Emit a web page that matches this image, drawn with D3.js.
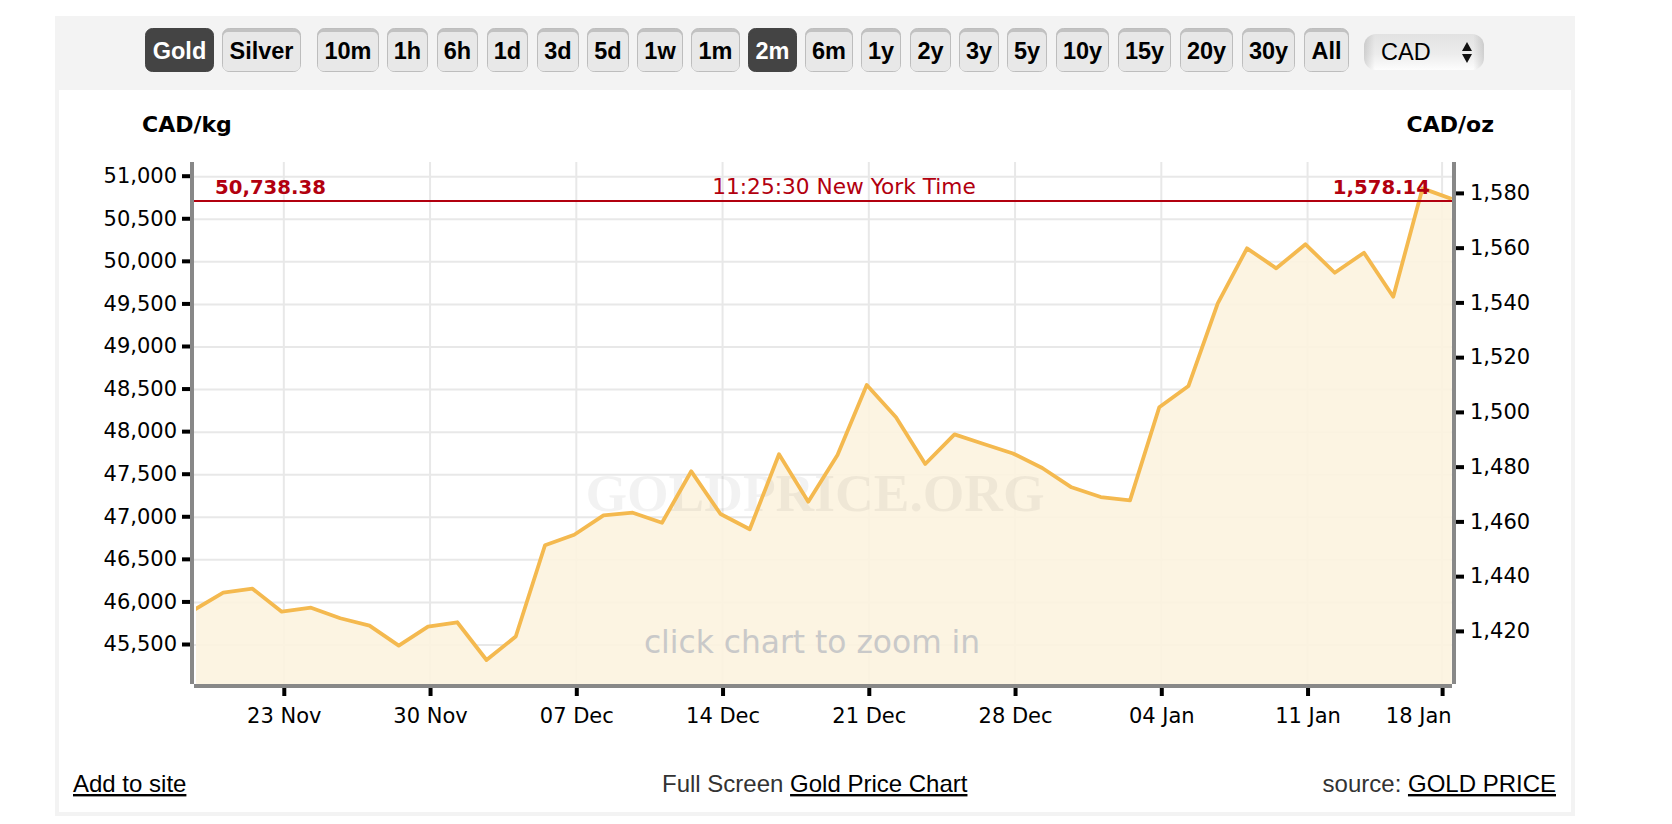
<!DOCTYPE html>
<html>
<head>
<meta charset="utf-8">
<script src="https://cdn.jsdelivr.net/npm/d3@7"></script>
<style>
body { margin:0; background:#fff; }
svg { display:block; }
</style>
</head>
<body>
<div id="chart"></div>
<script>
// trading days, 18 Nov - 18 Jan
const days = ["18 Nov","19 Nov","20 Nov","23 Nov","24 Nov","25 Nov","26 Nov","27 Nov","30 Nov","01 Dec","02 Dec","03 Dec","04 Dec","07 Dec","08 Dec","09 Dec","10 Dec","11 Dec","14 Dec","15 Dec","16 Dec","17 Dec","18 Dec","21 Dec","22 Dec","23 Dec","24 Dec","25 Dec","28 Dec","29 Dec","30 Dec","31 Dec","01 Jan","04 Jan","05 Jan","06 Jan","07 Jan","08 Jan","11 Jan","12 Jan","13 Jan","14 Jan","15 Jan","18 Jan"]
const prices = [45911,46114,46161,45891,45938,45814,45727,45492,45715,45767,45324,45600,46672,46795,47023,47054,46936,47540,47038,46859,47740,47183,47731,48553,48174,47626,47974,47861,47749,47579,47352,47238,47199,48292,48542,49513,50159,49924,50206,49872,50107,49590,50863,50738.38]

const kgTicks = [45500,46000,46500,47000,47500,48000,48500,49000,49500,50000,50500,51000]
const ozTicks = [1420,1440,1460,1480,1500,1520,1540,1560,1580]
const dateTickLabels = ["23 Nov","30 Nov","07 Dec","14 Dec","21 Dec","28 Dec","04 Jan","11 Jan","18 Jan"]
const dateTickPos = [3.07,8.07,13.07,18.07,23.07,28.07,33.07,38.07,42.67]

const priceKg = "50,738.38"
const priceOz = "1,578.14"
const clockText = "11:25:30 New York Time"

const metalLabels = ["Gold","Silver"]
const rangeLabels = ["10m","1h","6h","1d","3d","5d","1w","1m","2m","6m","1y","2y","3y","5y","10y","15y","20y","30y","All"]
const activeLabels = ["Gold","2m"]
const buttonEdges = [[145,214],[222,301],[317,379],[387,428],[437,478],[487,528],[537,579],[587,629],[637,683],[691,740],[748,797],[805,853],[861,901],[910,951],[959,999],[1007,1047],[1056,1109],[1118,1171],[1180,1233],[1242,1295],[1304,1349]]

const width = 1672
const height = 824
const plot = {left:194, right:1452, top:162, bottom:684}
const sans = "'Liberation Sans', Arial, sans-serif"
const lucida = "'DejaVu Sans', sans-serif"
const red = "#b2000f"

const svg = d3.select("div#chart").append("svg").attr("width",width).attr("height",height)
const defs = svg.append("defs")
defs.append("clipPath").attr("id","plotClip").append("rect")
    .attr("x",plot.left+2).attr("y",plot.top).attr("width",plot.right-plot.left-2).attr("height",plot.bottom-plot.top)
const selectGrad = defs.append("linearGradient").attr("id","selectGrad").attr("x1",0).attr("y1",0).attr("x2",0).attr("y2",1)
selectGrad.append("stop").attr("offset","0%").attr("stop-color","#e2e2e2")
selectGrad.append("stop").attr("offset","55%").attr("stop-color","#ececec")
selectGrad.append("stop").attr("offset","100%").attr("stop-color","#fdfdfd")
const edgeGrad = defs.append("linearGradient").attr("id","edgeGrad").attr("x1",0).attr("y1",0).attr("x2",1).attr("y2",0)
edgeGrad.append("stop").attr("offset","0%").attr("stop-color","#999").attr("stop-opacity",0.35)
edgeGrad.append("stop").attr("offset","9%").attr("stop-color","#999").attr("stop-opacity",0)
edgeGrad.append("stop").attr("offset","91%").attr("stop-color","#999").attr("stop-opacity",0)
edgeGrad.append("stop").attr("offset","100%").attr("stop-color","#999").attr("stop-opacity",0.35)

// panel
svg.append("rect").attr("x",55).attr("y",16).attr("width",1520).attr("height",800).attr("fill","#f3f3f3")
svg.append("rect").attr("x",59).attr("y",90).attr("width",1512).attr("height",722).attr("fill","#fff")

// buttons
const allButtons = metalLabels.concat(rangeLabels)
const buttons = svg.append("g").attr("class","buttons")
    .selectAll("g").data(allButtons).enter().append("g")
buttons.append("rect")
    .attr("x",(d,i)=>buttonEdges[i][0]+0.5).attr("y",28.5)
    .attr("width",(d,i)=>buttonEdges[i][1]-buttonEdges[i][0]-1).attr("height",43).attr("rx",7)
    .attr("fill",d=>activeLabels.includes(d) ? "#444" : "#c2c2c2")
    .attr("stroke",d=>activeLabels.includes(d) ? "#444" : "#bdbdbd")
buttons.append("rect")
    .attr("x",(d,i)=>buttonEdges[i][0]+1).attr("y",32)
    .attr("width",(d,i)=>buttonEdges[i][1]-buttonEdges[i][0]-2).attr("height",39).attr("rx",5)
    .attr("fill",d=>activeLabels.includes(d) ? "#444" : "#e8e8e8")
buttons.append("text")
    .attr("x",(d,i)=>(buttonEdges[i][0]+buttonEdges[i][1])/2).attr("y",59)
    .attr("text-anchor","middle").attr("font-family",sans).attr("font-weight","bold").attr("font-size",23.5)
    .attr("fill",d=>activeLabels.includes(d) ? "#fff" : "#000")
    .text(d=>d)

// currency select
const select = svg.append("g").attr("class","select")
select.append("rect").attr("x",1364).attr("y",34).attr("width",120).attr("height",36).attr("rx",12).attr("fill","url(#selectGrad)")
select.append("rect").attr("x",1364).attr("y",34).attr("width",120).attr("height",36).attr("rx",12).attr("fill","url(#edgeGrad)")
select.append("text").attr("x",1381).attr("y",60).attr("font-family",sans).attr("font-size",23.5).attr("fill","#000").text("CAD")
select.append("path").attr("d","M1467,42 L1472,51 L1462,51 Z M1462,54 L1472,54 L1467,63 Z").attr("fill","#111")

// units
svg.append("text").attr("x",142).attr("y",132).attr("font-family",lucida).attr("font-weight","bold").attr("font-size",22).text("CAD/kg")
svg.append("text").attr("x",1494).attr("y",132).attr("text-anchor","end").attr("font-family",lucida).attr("font-weight","bold").attr("font-size",22).text("CAD/oz")

// scales
const x = d3.scaleLinear().domain([0,days.length-1]).range([194,1451.75])
const y = d3.scaleLinear().domain([45500,51000]).range([645,176.7])
const yOz = d3.scaleLinear().domain([1420,1580]).range([631.9,193.9])

// grid
const grid = svg.append("g").attr("class","grid").attr("stroke","#e8e8e8").attr("stroke-width",2)
grid.selectAll("line.h").data(kgTicks).enter().append("line").attr("class","h")
    .attr("x1",plot.left).attr("x2",plot.right).attr("y1",d=>y(d)).attr("y2",d=>y(d))
grid.selectAll("line.v").data(dateTickPos).enter().append("line").attr("class","v")
    .attr("x1",d=>x(d)).attr("x2",d=>x(d)).attr("y1",plot.top).attr("y2",plot.bottom)

// price area
svg.append("path").datum(prices)
    .attr("clip-path","url(#plotClip)")
    .attr("d",d3.area().x((d,i)=>x(i)).y0(plot.bottom).y1(d=>y(d)))
    .attr("fill","#fcf3df").attr("fill-opacity",0.9)

// watermark shows faintly on both the white and the area
svg.append("text").attr("x",815).attr("y",511).attr("text-anchor","middle")
    .attr("font-family","'Liberation Serif', serif").attr("font-weight","bold").attr("font-size",53.5)
    .attr("fill","#000").attr("fill-opacity",0.05).text("GOLDPRICE.ORG")

// price line
svg.append("path").datum(prices)
    .attr("clip-path","url(#plotClip)")
    .attr("d",d3.line().x((d,i)=>x(i)).y(d=>y(d)))
    .attr("fill","none").attr("stroke","#f4b94f").attr("stroke-width",3.8).attr("stroke-linejoin","round")

// current price line
svg.append("line").attr("x1",plot.left).attr("x2",plot.right)
    .attr("y1",y(prices[prices.length-1])+2).attr("y2",y(prices[prices.length-1])+2)
    .attr("stroke",red).attr("stroke-width",2)
svg.append("text").attr("x",215).attr("y",194).attr("font-family",lucida).attr("font-weight","bold").attr("font-size",19.7).attr("fill",red).text(priceKg)
svg.append("text").attr("x",844).attr("y",194).attr("text-anchor","middle").attr("font-family",lucida).attr("font-size",21.7).attr("fill",red).text(clockText)
svg.append("text").attr("x",1430).attr("y",194).attr("text-anchor","end").attr("font-family",lucida).attr("font-weight","bold").attr("font-size",19.7).attr("fill",red).text(priceOz)

svg.append("text").attr("x",812).attr("y",653).attr("text-anchor","middle").attr("font-family",lucida).attr("font-size",31.3).attr("fill","#c9c9c9").text("click chart to zoom in")

// axes
const styleAxis = g => {
    g.select(".domain").remove()
    g.selectAll(".tick line").attr("stroke","#000").attr("stroke-width",4)
    g.selectAll(".tick text").attr("font-family",lucida).attr("font-size",21).attr("fill","#000")
}
const yAxisLeft = d3.axisLeft(y).tickValues(kgTicks).tickFormat(d3.format(",")).tickSize(8).tickPadding(5)
const yAxisRight = d3.axisRight(yOz).tickValues(ozTicks).tickFormat(d3.format(",")).tickSize(8).tickPadding(6)
const xAxis = d3.axisBottom(x).tickValues(dateTickPos).tickFormat((d,i)=>dateTickLabels[i]).tickSize(8).tickPadding(12)

svg.append("g").attr("class","yAxisLeft").attr("transform","translate(190,-1)").call(yAxisLeft).call(styleAxis)
svg.append("g").attr("class","yAxisRight").attr("transform","translate(1456,-1)").call(yAxisRight).call(styleAxis)
const xAxisGroup = svg.append("g").attr("class","xAxis").attr("transform","translate(0,688)").call(xAxis).call(styleAxis)
// last label is pushed left so it stays inside the plot
xAxisGroup.selectAll(".tick text").filter((d,i)=>i===dateTickLabels.length-1).attr("text-anchor","end").attr("dx",9)

svg.append("rect").attr("x",190).attr("y",plot.top).attr("width",4).attr("height",plot.bottom-plot.top).attr("fill","#888")
svg.append("rect").attr("x",1452).attr("y",plot.top).attr("width",4).attr("height",plot.bottom-plot.top).attr("fill","#888")
svg.append("rect").attr("x",194).attr("y",684).attr("width",1258).attr("height",4).attr("fill","#888")

// footer
const footer = svg.append("g").attr("font-family",sans).attr("font-size",24)
footer.append("text").attr("x",73).attr("y",792).attr("fill","#000").attr("text-decoration","underline").text("Add to site")
const mid = footer.append("text").attr("x",662).attr("y",792).attr("fill","#333")
mid.append("tspan").text("Full Screen ")
mid.append("tspan").attr("fill","#000").attr("text-decoration","underline").text("Gold Price Chart")
const src = footer.append("text").attr("x",1556).attr("y",792).attr("text-anchor","end").attr("fill","#333")
src.append("tspan").text("source: ")
src.append("tspan").attr("fill","#000").attr("text-decoration","underline").text("GOLD PRICE")
</script>
</body>
</html>
